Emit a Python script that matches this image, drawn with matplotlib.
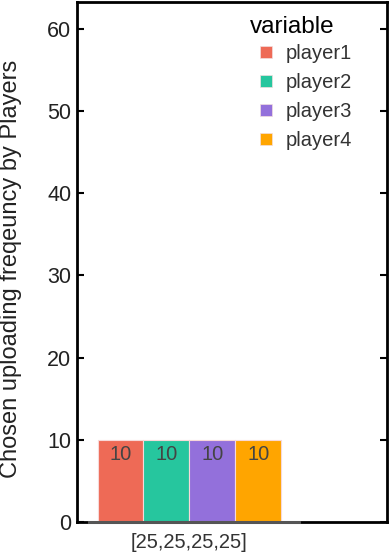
import matplotlib.pyplot as plt
from matplotlib.lines import Line2D
import numpy as np

plt.rcParams['font.family'] = ['Liberation Sans', 'DejaVu Sans']

# data
categories = ['[25,25,25,25]']
players = ['player1', 'player2', 'player3', 'player4']
values = [10, 10, 10, 10]
colors = ['#EE6A56', '#26C69E', '#9370DB', '#FFA500']

fig = plt.figure(figsize=(3.9, 5.56), dpi=100)
ax = fig.add_axes([0.197, 0.061, 0.795, 0.935])

width = 0.2
x = np.arange(len(categories))
for i, (p, v, c) in enumerate(zip(players, values, colors)):
    pos = x - 0.4 + width * (i + 0.5)
    bars = ax.bar(pos, [v], width=width, color=c, edgecolor='#f7d9d9',
                  linewidth=0.8, label=p, zorder=2)
    for b in bars:
        ax.text(b.get_x() + b.get_width() / 2, b.get_height() - 0.6,
                str(int(b.get_height())), ha='center', va='top',
                fontsize=14.5, color='#444444', zorder=3)

ax.set_xlim(-0.49, 0.86)
ax.set_ylim(0, 63.2)
ax.set_xticks(x)
ax.set_xticklabels(categories, fontsize=14.5, color='#333333')
ax.set_yticks(range(0, 61, 10))
ax.tick_params(axis='y', labelsize=15.5, direction='in', length=5, width=1.5,
               right=True, labelcolor='#222222', pad=4)
ax.tick_params(axis='x', length=0, pad=8)
for s in ax.spines.values():
    s.set_linewidth(2)
    s.set_color('black')
ax.axhline(0, xmin=0.038, xmax=0.715, color='#555555', linewidth=2.2, zorder=4,
           clip_on=False)

ax.set_ylabel('Chosen uploading freqeuncy by Players', fontsize=17,
              color='#222222')
ax.yaxis.set_label_coords(-0.178, 0.488)

handles = [Line2D([], [], linestyle='none', marker='s', markersize=8.5,
                  markerfacecolor=c, markeredgecolor='#f3dede', markeredgewidth=0.5)
           for c in colors]
leg = ax.legend(handles, players, title='variable', loc='upper left',
                bbox_to_anchor=(0.513, 1.0), frameon=False, fontsize=14.5,
                title_fontsize=17.5, handlelength=1.55, handletextpad=0.2,
                labelspacing=0.5, borderaxespad=0.3)
leg._legend_box.align = 'left'
leg._legend_box.sep = 4
for t in leg.get_texts():
    t.set_color('#333333')

fig.savefig('out.png', dpi=100)
